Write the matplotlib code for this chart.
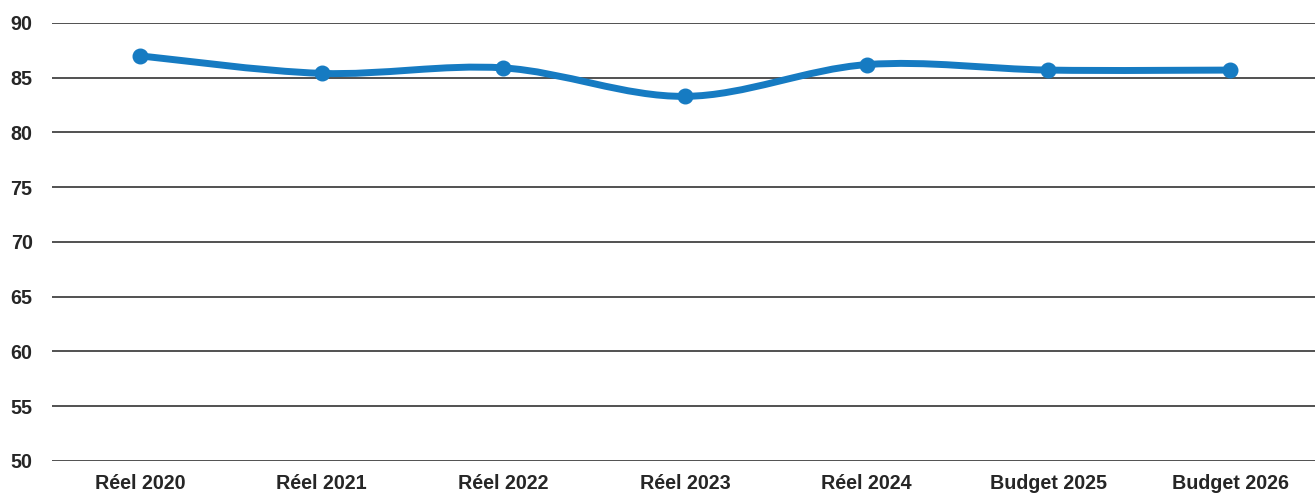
import matplotlib
matplotlib.use("Agg")
import matplotlib.pyplot as plt
from matplotlib.path import Path
from matplotlib.patches import PathPatch

categories = ["Réel 2020", "Réel 2021", "Réel 2022", "Réel 2023", "Réel 2024", "Budget 2025", "Budget 2026"]
values = [87.0, 85.4, 85.9, 83.3, 86.2, 85.7, 85.7]
yticks = [50, 55, 60, 65, 70, 75, 80, 85, 90]

plt.rcParams['font.family'] = ['Liberation Sans', 'DejaVu Sans']
color = "#167bc2"

fig = plt.figure(figsize=(13.15, 4.95), dpi=100)
ax = fig.add_axes([52/1315, 1-461/495, 1-52/1315, (461-23)/495])

xs = list(range(len(values)))
# Smoothed line via Catmull-Rom -> cubic Bezier control points (rendered by matplotlib Path)
verts = [(xs[0], values[0])]
codes = [Path.MOVETO]
n = len(values)
for i in range(n - 1):
    p0 = (xs[max(i-1, 0)], values[max(i-1, 0)])
    p1 = (xs[i], values[i])
    p2 = (xs[i+1], values[i+1])
    p3 = (xs[min(i+2, n-1)], values[min(i+2, n-1)])
    t = 1/6
    c1 = (p1[0] + (p2[0]-p0[0])*t, p1[1] + (p2[1]-p0[1])*t)
    c2 = (p2[0] - (p3[0]-p1[0])*t, p2[1] - (p3[1]-p1[1])*t)
    verts += [c1, c2, p2]
    codes += [Path.CURVE4]*3
patch = PathPatch(Path(verts, codes), facecolor='none', edgecolor=color, lw=5.0,
                  capstyle='round', joinstyle='round', zorder=3)
ax.add_patch(patch)
ax.plot(xs, values, linestyle='none', marker='o', markersize=10.5, color=color, zorder=4)

ax.set_xlim(-0.484, 6.467)
ax.set_ylim(50, 90)
ax.set_yticks(yticks)
ax.set_xticks(xs)
ax.set_xticklabels(categories)
for s in ax.spines.values():
    s.set_visible(False)
ax.grid(axis='y', color='#222222', linewidth=1.1)
ax.set_axisbelow(True)
ax.tick_params(axis='both', length=0, labelsize=14.2, labelcolor='#262626')
ax.tick_params(axis='y', pad=14)
ax.tick_params(axis='x', pad=9.5)
for lab in ax.get_xticklabels() + ax.get_yticklabels():
    lab.set_fontweight('bold')

fig.savefig("out.png", dpi=100)
